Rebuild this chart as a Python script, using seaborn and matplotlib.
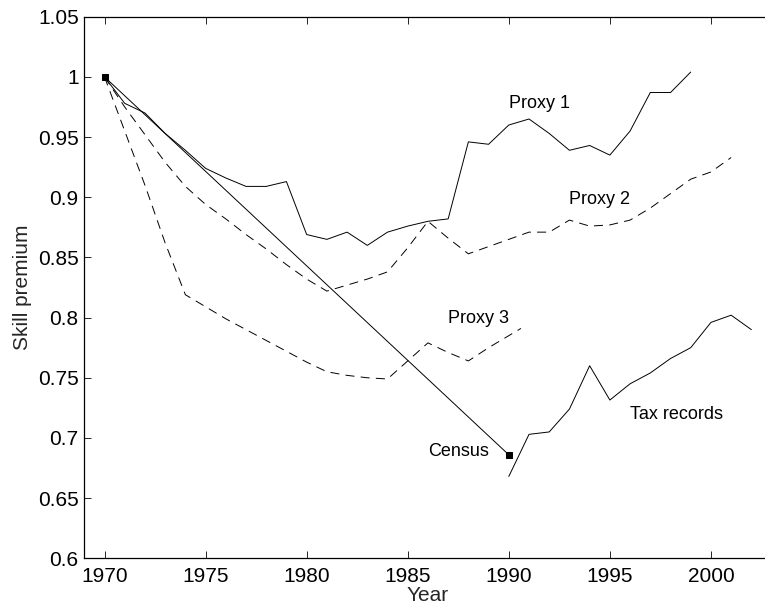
# IMPORT LIBRARIES

import numpy as np
import matplotlib
matplotlib.use("Agg")
import matplotlib.pyplot as plt
import seaborn as sns
from matplotlib.ticker import FormatStrFormatter

# DATA

proxy1_years = list(range(1970, 2000))
proxy1_vals = [1.000, 0.978, 0.970, 0.953, 0.939, 0.924, 0.916, 0.909, 0.909, 0.913,
               0.869, 0.865, 0.871, 0.860, 0.871, 0.876, 0.880, 0.882, 0.946, 0.944,
               0.960, 0.965, 0.953, 0.939, 0.943, 0.935, 0.955, 0.987, 0.987, 1.004]

proxy2_years = list(range(1970, 2002))
proxy2_vals = [1.000, 0.975, 0.952, 0.929, 0.909, 0.894, 0.882, 0.869, 0.857, 0.844,
               0.832, 0.822, 0.827, 0.832, 0.838, 0.858, 0.880, 0.866, 0.853, 0.859,
               0.865, 0.871, 0.871, 0.881, 0.876, 0.877, 0.881, 0.891, 0.903, 0.915,
               0.921, 0.933]

proxy3_years = [1970, 1971, 1972, 1973, 1974, 1975, 1976, 1977, 1978, 1979, 1980,
                1981, 1982, 1983, 1984, 1985, 1986, 1987, 1988, 1989, 1990, 1990.6]
proxy3_vals = [1.000, 0.955, 0.910, 0.862, 0.819, 0.809, 0.799, 0.790, 0.781, 0.772,
               0.763, 0.755, 0.752, 0.750, 0.749, 0.764, 0.779, 0.771, 0.764, 0.775,
               0.785, 0.791]

census_years = [1970, 1990]
census_vals = [1.000, 0.686]

tax_years = list(range(1990, 2003))
tax_vals = [0.668, 0.703, 0.705, 0.724, 0.760, 0.7315, 0.745, 0.754, 0.766, 0.775,
            0.796, 0.802, 0.790]

labels = ["Proxy 1", "Proxy 2", "Proxy 3", "Census", "Tax records"]
label_x = [1990.0, 1993.0, 1987.0, 1986.0, 1996.0]
label_y = [0.978, 0.898, 0.799, 0.689, 0.7195]

x_ticks = [1970, 1975, 1980, 1985, 1990, 1995, 2000]
y_ticks = [0.6, 0.65, 0.7, 0.75, 0.8, 0.85, 0.9, 0.95, 1.0, 1.05]

# STYLE

sns.set_style("ticks")
plt.rcParams["font.family"] = ["Liberation Sans", "DejaVu Sans"]
plt.rcParams["lines.scale_dashes"] = False
plt.rcParams["lines.dashed_pattern"] = [6.5, 4.5]

# FIGURE

fig = plt.figure(figsize=(7.65, 6.07), dpi=100)
ax = fig.add_axes([0.1102, 0.0802, 0.8984, 0.8923])

# LINES

sns.lineplot(x=proxy1_years, y=proxy1_vals, color="black", linewidth=0.7, ax=ax)
sns.lineplot(x=proxy2_years, y=proxy2_vals, color="black", linewidth=0.7,
             linestyle="--", ax=ax)
sns.lineplot(x=proxy3_years, y=proxy3_vals, color="black", linewidth=0.7,
             linestyle="--", ax=ax)
sns.lineplot(x=census_years, y=census_vals, color="black", linewidth=0.7,
             marker="s", markersize=4, markeredgecolor="black", ax=ax)
sns.lineplot(x=tax_years, y=tax_vals, color="black", linewidth=0.7, ax=ax)

# TEXT LABELS

for txt, tx, ty in zip(labels, label_x, label_y):
    ax.text(tx, ty, txt, fontsize=13, ha="left", va="center", color="black")

# AXES

ax.set_xlim(1969, 2003)
ax.set_ylim(0.6, 1.05)
ax.set_xticks(x_ticks)
ax.set_yticks(y_ticks)
ax.yaxis.set_major_formatter(FormatStrFormatter("%g"))
ax.tick_params(direction="in", length=5, width=0.6, top=True, right=True,
               labelsize=15, colors="black", pad=4)
ax.tick_params(axis="x", pad=6)
for side in ["top", "bottom", "left", "right"]:
    ax.spines[side].set_visible(True)
    ax.spines[side].set_linewidth(0.9)
    ax.spines[side].set_color("black")

ax.set_xlabel("Year", fontsize=15, labelpad=0)
ax.set_ylabel("Skill premium", fontsize=15, labelpad=4)

fig.savefig("out.png", dpi=100, facecolor="white")
